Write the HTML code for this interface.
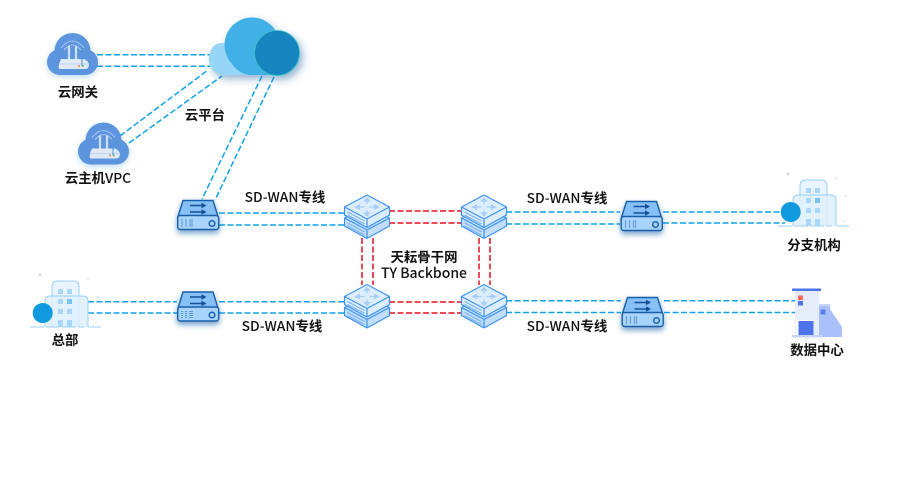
<!DOCTYPE html>
<html><head><meta charset="utf-8"><style>
html,body{margin:0;padding:0;background:#fff;width:900px;height:500px;overflow:hidden}
svg{display:block}
text{font-family:"Noto Sans CJK SC","Liberation Sans",sans-serif;font-size:13.4px;font-weight:700;fill:#111;text-anchor:middle}
.m{font-weight:500;font-size:13.8px}
.b{stroke:#0ea2ea;stroke-width:1.5;stroke-dasharray:6 2.500;fill:none}
.r{stroke:#e8101c;stroke-width:1.500;stroke-dasharray:6 2.500;fill:none}
</style></head><body>
<svg width="900" height="500" viewBox="0 0 900 500" xmlns="http://www.w3.org/2000/svg">
<defs>
<filter id="s" x="-30%" y="-30%" width="160%" height="170%"><feDropShadow dx="0" dy="3" stdDeviation="3" flood-color="#1763a8" flood-opacity=".6"/></filter>
<filter id="c" x="-30%" y="-30%" width="160%" height="170%"><feDropShadow dx="0" dy="2" stdDeviation="3" flood-color="#5aa0e0" flood-opacity=".4"/></filter>
<filter id="s2" x="-30%" y="-30%" width="160%" height="170%"><feDropShadow dx="3" dy="4" stdDeviation="4" flood-color="#2c6ea8" flood-opacity=".5"/></filter>
<g id="cloud">
<g filter="url(#c)" fill="#5d94de"><circle cx="25.500" cy="18" r="18"/><circle cx="13" cy="29" r="13"/><circle cx="38" cy="29" r="13"/><rect x="13" y="25" width="25" height="17"/></g>
<path d="M14 15 Q25.500 1 37 15 M17 17 Q25.500 7 34 17" stroke="#a9c8ef" stroke-width="1" fill="none"/>
<path d="M22 13 V26 M29 13 V26" stroke="#cfe0f6" stroke-width="2.200"/>
<path d="M14 26 H37 Q41 28 42 31 Q42 36 38 36 H13 Q11 36 12 31 Z" fill="#dfe9f7"/>
<path d="M12 31 H42" stroke="#b8cde8" stroke-width=".8"/>
<circle cx="32" cy="33" r="1" fill="#ef7d3c"/><circle cx="36" cy="33" r="1" fill="#6cc24a"/>
<path d="M35 25 V33" stroke="#1c7fc7" stroke-width=".8"/>
</g>
<g id="srv" filter="url(#s)">
<path d="M6 1 H36 L41 17 H1 Z" fill="#86c0f6" stroke="#1a5fa8" stroke-width="1.400"/>
<rect x="0.700" y="16" width="41" height="14" rx="2.500" fill="#a8d4fb" stroke="#1a5fa8" stroke-width="1.400"/>
<path d="M13 6 H28 M13 12.500 H28" stroke="#124f96" stroke-width="1.600"/>
<path d="M24.500 3.300 L29.500 6 L24.500 8.700Z M24.500 9.800 L29.500 12.500 L24.500 15.200Z" fill="#124f96"/>
<path d="M5 20 V27 M9 20 V27 M13 20 V27 M15 20 V27" stroke="#2f72b8" stroke-width="1.200" stroke-dasharray="1 1"/>
<circle cx="35" cy="24" r="2.800" fill="none" stroke="#1a5fa8" stroke-width="1.500"/>
</g>
<g id="sw">
<path d="M0 23 L22.500 11 L45 23 V31 L22.500 43.500 L0 31 Z" fill="#c2defc" stroke="#3e93f0" stroke-width="1.200"/>
<path d="M0 23 L22.500 35 L45 23 M22.500 35 V43.500" fill="none" stroke="#3e93f0" stroke-width="1.200"/>
<path d="M3 28 L20 37 M3 31 L20 40" stroke="#7cb4ee" stroke-width="1.200"/>
<path d="M0 12 L22.500 0 L45 12 V20 L22.500 32.500 L0 20 Z" fill="#dcedfe" stroke="#3e93f0" stroke-width="1.200"/>
<path d="M0 12 L22.500 24 L45 12 M22.500 24 V32.500" fill="none" stroke="#3e93f0" stroke-width="1.200"/>
<path d="M3 17 L20 26 M3 20 L20 29" stroke="#7cb4ee" stroke-width="1.200"/>
<path d="M22.500 3 L25 6 H20 Z M22.500 21 L25 18 H20 Z M11 12 L15 10 V14 Z M34 12 L30 10 V14 Z M15 12 H20 M25 12 H30 M22.500 6 V9 M22.500 15 V18" fill="#a8cef6" stroke="#a8cef6" stroke-width="1.200"/>
</g>
<g id="bld">
<path d="M52 327 V287 Q52 281 58 281 H73 Q79 281 79 287 V327" fill="#e9f4fe" stroke="#98d0fb" stroke-width="1"/>
<path d="M45 327 V301 Q45 296 50 296 H83 Q88 296 88 301 V327" fill="#dff0fd" fill-opacity=".85" stroke="#98d0fb" stroke-width="1"/>
<g fill="#a9d7fb"><rect x="58" y="289" width="5" height="5"/><rect x="67" y="289" width="5" height="5"/><rect x="58" y="299" width="5" height="5"/><rect x="67" y="299" width="5" height="5" fill="#7cc2f5"/><rect x="58" y="309" width="5" height="5"/><rect x="67" y="309" width="5" height="5"/><rect x="58" y="320" width="5" height="7"/><rect x="67" y="320" width="5" height="7"/></g>
<path d="M30 327 H84 M88 327 H101" stroke="#98d0fb" stroke-width="1" stroke-dasharray="14 2"/>
<circle cx="40" cy="275" r="1.500" fill="#d5d9de"/><circle cx="88" cy="279" r="1.500" fill="#edf0f3"/><circle cx="98" cy="297" r="1" fill="#d5d9de"/><circle cx="96" cy="322" r="1" fill="#e6e9ec"/>
<circle cx="42.700" cy="313" r="10" fill="#129adf"/>
</g>
</defs>

<path class="b" d="M97 54.700H210M97 66.300H210"/>
<path class="b" d="M120 136L208 70M129 143L222 76"/>
<path class="b" d="M262 76L202 199M274 77L215 200"/>
<path class="b" d="M219 213H345M219 225H345"/>
<path class="b" d="M506 212H620M506 224H620M663 212H785M663 223H785"/>
<path class="b" d="M88 301.700H177M88 313H177M219 301.700H345M219 313H345"/>
<path class="b" d="M506 300.700H621M506 312.500H621M664 300.700H795M664 312.500H795"/>
<path class="r" d="M389 211H461M389 223H461M389 302H461M389 313H461"/>
<path class="r" d="M362 238V285M373 238V285M479 238V285M490 238V285"/>

<g filter="url(#s2)">
<path d="M222 43 C213 43 209 51 209 59 C209 68 215 75 224 75 H260 V50 Z" fill="#97d5f6"/>
<circle cx="252" cy="45" r="27.500" fill="#3fb0e6"/>
<path d="M232 64 Q240 75 252 75 H277 V50 Z" fill="#3fb0e6"/>
<circle cx="277" cy="53" r="22.500" fill="#1284bf" stroke="#3fc0c8" stroke-width=".8"/>
</g>

<use href="#cloud" x="47" y="33"/>
<use href="#cloud" x="78" y="122.500"/>

<use href="#srv" x="177" y="199.500"/>
<use href="#srv" x="177" y="291"/>
<use href="#srv" x="620.500" y="200.500"/>
<use href="#srv" x="621.500" y="296.500"/>

<use href="#sw" x="344.500" y="195"/>
<use href="#sw" x="461.500" y="195"/>
<use href="#sw" x="344.500" y="284.500"/>
<use href="#sw" x="461.500" y="284.500"/>

<use href="#bld" x="0" y="0"/>
<use href="#bld" x="748" y="-101"/>

<rect x="792" y="288.500" width="29" height="2.500" fill="#4f74ea"/>
<rect x="795" y="291" width="24" height="44" fill="#e5edfd"/>
<path d="M819 305 H830 V309 L842 327 V337 H819 Z" fill="#a9c0f8"/>
<rect x="819" y="304" width="11" height="2" fill="#c8d6fb"/>
<rect x="820.500" y="309.500" width="5" height="5" fill="#5a7de8"/>
<rect x="798" y="295.500" width="5" height="4.500" fill="#f4685f"/>
<rect x="798" y="301" width="5" height="4.500" fill="#4f74ea"/>
<rect x="796" y="320" width="17.500" height="15" fill="#fff"/>
<rect x="798.500" y="321" width="15" height="14" fill="#4f74ea"/>
<rect x="792" y="335" width="31" height="2.500" fill="#c5d4fa"/>

<text x="78" y="97">云网关</text>
<text x="98" y="183">云主机<tspan class="m">VPC</tspan></text>
<text x="205" y="120">云平台</text>
<text x="285" y="202"><tspan class="m">SD-WAN</tspan>专线</text>
<text x="282" y="331"><tspan class="m">SD-WAN</tspan>专线</text>
<text x="567" y="203"><tspan class="m">SD-WAN</tspan>专线</text>
<text x="567" y="331"><tspan class="m">SD-WAN</tspan>专线</text>
<text x="424" y="262">天耘骨干网</text>
<text class="m" x="424" y="278" style="font-size:14px">TY Backbone</text>
<text x="65" y="345">总部</text>
<text x="814" y="250">分支机构</text>
<text x="817" y="355">数据中心</text>
</svg>
</body></html>
